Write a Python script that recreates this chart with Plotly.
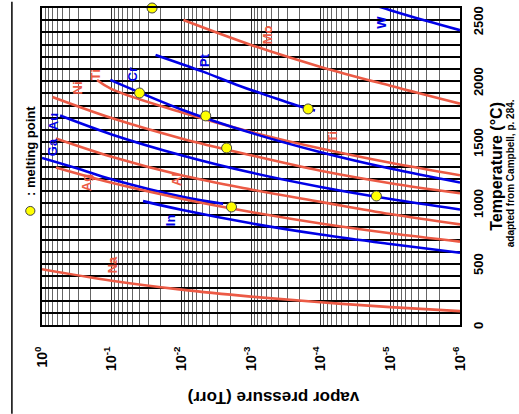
import math
import plotly.graph_objects as go

# ---------------- data ----------------
# each curve: pressures (Torr) and temperatures (degC)
curves = {
    "W":  ([10**-4.6, 1e-5, 10**-5.5, 1e-6], [2654, 2582, 2497, 2418]),
    "Mo": ([10**-2.03, 1e-3, 1e-4, 1e-5, 1e-6], [2501, 2297, 2117, 1962, 1815]),
    "Pt": ([10**-1.63, 10**-2.31, 10**-2.8, 10**-3.28, 10**-3.82, 10**-3.92], [2215, 2078, 1969, 1873, 1772, 1760]),
    "Ti": ([10**-0.79, 1e-1, 1e-2, 1e-3, 1e-4, 1e-5, 1e-6], [2010, 1935, 1745, 1583, 1447, 1330, 1228]),
    "Cr": ([10**-0.98, 1e-1, 1e-2, 1e-3, 1e-4, 1e-5, 1e-6], [2010, 2005, 1768, 1576, 1417, 1283, 1169]),
    "Ni": ([10**-0.15, 1e-1, 1e-2, 1e-3, 1e-4, 1e-5, 1e-6], [1870, 1697, 1530, 1392, 1265, 1163, 1080]),
    "Au": ([10**-0.26, 1e-1, 1e-2, 1e-3, 1e-4, 1e-5, 1e-6], [1718, 1563, 1392, 1250, 1132, 1033, 947]),
    "Al": ([10**-0.2, 1e-1, 1e-2, 1e-3, 1e-4, 1e-5, 1e-6], [1530, 1380, 1228, 1112, 1010, 910, 825]),
    "Ga": ([1e0, 10**-0.5, 1e-1, 1e-2, 10**-2.6], [1370, 1285, 1195, 1053, 995]),
    "Ag": ([10**-0.2, 1e-1, 1e-2, 1e-3, 1e-4, 1e-5, 1e-6], [1292, 1166, 1036, 927, 832, 752, 684]),
    "In": ([10**-1.45, 1e-2, 1e-3, 1e-4, 1e-5, 1e-6], [1016, 945, 834, 742, 664, 592]),
    "Na": ([1e0, 1e-1, 1e-2, 1e-3, 1e-4, 1e-5, 1e-6], [457, 363, 290, 233, 186, 147, 114]),
}
curve_colors = {
    "W": "blue", "Mo": "red", "Pt": "blue", "Ti": "red", "Cr": "blue", "Ni": "red",
    "Au": "blue", "Al": "red", "Ga": "blue", "Ag": "red", "In": "blue", "Na": "red",
}

# melting points: pressure (Torr), temperature (degC)
mp_pressure = [10**-1.58, 10**-1.40, 10**-2.35, 10**-2.65, 10**-3.82, 10**-2.72, 10**-4.80]
mp_temp = [2600, 1903, 1715, 1452, 1772, 968, 1058]

# curve labels: text, pressure, temperature, colour
label_text = ["Na", "In", "Ag", "Al", "Ga", "Au", "Ni", "Ti", "Cr", "Pt", "Mo", "W", "Ti"]
label_p = [10**-1.01, 10**-1.84, 10**-0.65, 10**-1.94, 10**-0.16, 10**-0.16, 10**-0.51,
           10**-0.77, 10**-1.30, 10**-2.34, 10**-3.25, 10**-4.88, 10**-4.17]
label_t = [492, 861, 1165, 1190, 1460, 1665, 1944, 2051, 2051, 2174, 2379, 2486, 1542]
label_col = ["red", "blue", "red", "red", "blue", "blue", "red", "red", "blue", "blue", "red", "blue", "red"]

decades = [0, -1, -2, -3, -4, -5, -6]
x_ticktext = ["10<sup>%d</sup>" % d for d in decades]
temp_grid = list(range(0, 2700, 100))
temp_ticks = [0, 500, 1000, 1500, 2000, 2500]

RED = "#EC5A45"
BLUE = "#0000E6"
colmap = {"red": RED, "blue": BLUE}
FONT = "Liberation Sans"

fig = go.Figure()
for name, (p, t) in curves.items():
    fig.add_trace(go.Scatter(x=p, y=t, mode="lines",
                             line=dict(color=colmap[curve_colors[name]], width=2.6, shape="spline"),
                             hoverinfo="skip", showlegend=False))

fig.add_trace(go.Scatter(x=mp_pressure, y=mp_temp, mode="markers", cliponaxis=False,
                         marker=dict(size=10, color="#FFFF00", line=dict(color="#444", width=1)),
                         showlegend=False))

for txt, p, t, c in zip(label_text, label_p, label_t, label_col):
    fig.add_annotation(x=math.log10(p), y=t, xref="x", yref="y", text="<b>%s</b>" % txt, showarrow=False,
                       textangle=-90, xanchor="center", yanchor="middle",
                       font=dict(family=FONT, size=13, color=colmap[c]))

# temperature tick labels (rotated, right of the frame)
for t in temp_ticks:
    fig.add_annotation(xref="paper", yref="y", x=1.0657, y=t, text="<b>%d</b>" % t, showarrow=False,
                       textangle=-90, xanchor="right", yanchor="middle",
                       font=dict(family=FONT, size=13, color="black"))

minor_vals = [m * 10**d for d in decades[1:] for m in range(2, 10)]

fig.update_xaxes(type="log", range=[0, -6], tickmode="array", automargin=False,
                 tickvals=[10**d for d in decades], ticktext=x_ticktext, tickangle=-90,
                 tickfont=dict(family=FONT, size=14, color="black", weight="bold"),
                 ticks="", ticklabelstandoff=14,
                 showgrid=True, gridcolor="#333", gridwidth=1,
                 minor=dict(tickmode="array", tickvals=minor_vals, showgrid=True, gridcolor="#666", gridwidth=1, ticks=""),
                 showline=True, linecolor="black", linewidth=2, mirror=True, zeroline=False)
fig.update_yaxes(range=[0, 2600], side="right", tickmode="array", tickvals=temp_grid, showticklabels=False,
                 automargin=False, ticks="",
                 showgrid=True, gridcolor="black", gridwidth=2,
                 showline=True, linecolor="black", linewidth=2, mirror=True, zeroline=False)

# temperature axis title
fig.add_annotation(xref="paper", yref="paper", x=1.112, y=0.50, text="<b>Temperature (°C)</b>",
                   textangle=-90, showarrow=False, xanchor="right", yanchor="middle",
                   font=dict(family=FONT, size=16, color="black"))
# credit
fig.add_annotation(xref="paper", yref="paper", x=1.1386, y=0.48, text="<b>adapted from Campbell, p. 284.</b>",
                   textangle=-90, showarrow=False, xanchor="right", yanchor="middle",
                   font=dict(family=FONT, size=10, color="black"))
# pressure axis title (upside down)
fig.add_annotation(xref="paper", yref="paper", x=0.553, y=-0.228, text="<b>vapor pressure (Torr)</b>",
                   textangle=180, showarrow=False, xanchor="center", yanchor="middle",
                   font=dict(family=FONT, size=17, color="black"))
# legend
fig.add_annotation(xref="paper", yref="paper", x=-0.028, y=0.55, text="<b>: melting point</b>",
                   textangle=-90, showarrow=False, xanchor="center", yanchor="middle",
                   font=dict(family=FONT, size=13, color="black"))
fig.add_shape(type="circle", xref="paper", yref="paper", x0=-0.028 - 0.011, x1=-0.028 + 0.011,
              y0=0.360 - 0.014, y1=0.360 + 0.014, fillcolor="#FFFF00", line=dict(color="#444", width=1))
# page edge line at left
fig.add_shape(type="line", xref="paper", yref="paper", x0=-0.072, x1=-0.072, y0=-0.28, y1=1.02,
              line=dict(color="black", width=1.5))

fig.update_layout(width=519, height=414, margin=dict(l=42, r=59, t=8, b=89),
                  paper_bgcolor="white", plot_bgcolor="white", showlegend=False)

fig.write_html("out.html", config={"displayModeBar": False},
               post_script="document.body.style.margin='0';document.body.style.overflow='hidden';")
